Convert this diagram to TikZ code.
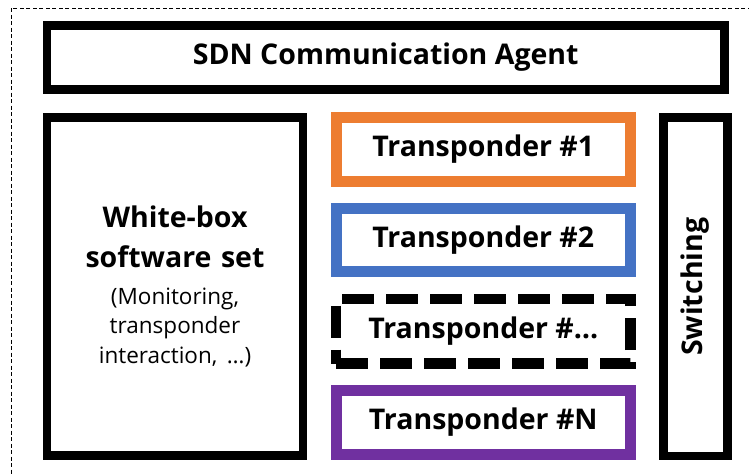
\documentclass[tikz,border=0pt]{standalone}
\usepackage{fontspec}
\setmainfont{Open Sans}
\definecolor{torange}{HTML}{ED7D31}
\definecolor{tblue}{HTML}{4472C4}
\definecolor{tpurple}{HTML}{7030A0}
\newcommand{\bigbf}{\fontsize{28.5}{40}\selectfont\bfseries}
\newcommand{\smallmd}{\fontsize{22.5}{29.5}\selectfont\mdseries}
\begin{document}
\begin{tikzpicture}[x=1pt,y=-1pt,
  blk/.style={draw=black,line width=8.5pt,rectangle,inner sep=0pt,font=\bigbf},
  tbox/.style={draw,line width=11pt,rectangle,inner sep=0pt,minimum width=294.5pt,minimum height=63.5pt,font=\bigbf}]
\useasboundingbox (0,0) rectangle (749,474);
\begin{scope}
\clip (0,0) rectangle (749,474);
\draw[line width=1pt,dash pattern=on 4pt off 2.5pt] (11,8) rectangle (770,500);
\end{scope}
\node[blk,minimum width=677.5pt,minimum height=64pt] (sdn) at (385.75,57.5) {SDN Communication Agent};
\node[blk,minimum width=256pt,minimum height=338pt,text width=240pt,align=center] (wb) at (175,286.5)
  {{\bigbf White-box\\ software set\par}\vspace{7pt}
   {\smallmd (Monitoring,\\ transponder\\ interaction, …)\par}};
\node[tbox,draw=torange] (t1) at (483.25,149.25) {Transponder \#1};
\node[tbox,draw=tblue] (t2) at (483.25,240) {Transponder \#2};
\node[tbox,draw=black,line width=10.5pt,dash pattern=on 32pt off 12pt,minimum height=64.5pt] (tx) at (483.25,331.25) {Transponder \#…};
\node[tbox,draw=tpurple,minimum height=64pt] (tn) at (483.25,422.5) {Transponder \#N};
\node[blk,minimum width=64pt,minimum height=338.5pt] (sw) at (695.5,286.75) {};
\node[rotate=90,font=\bigbf] (swl) at (sw.center) {Switching};
\end{tikzpicture}
\end{document}
